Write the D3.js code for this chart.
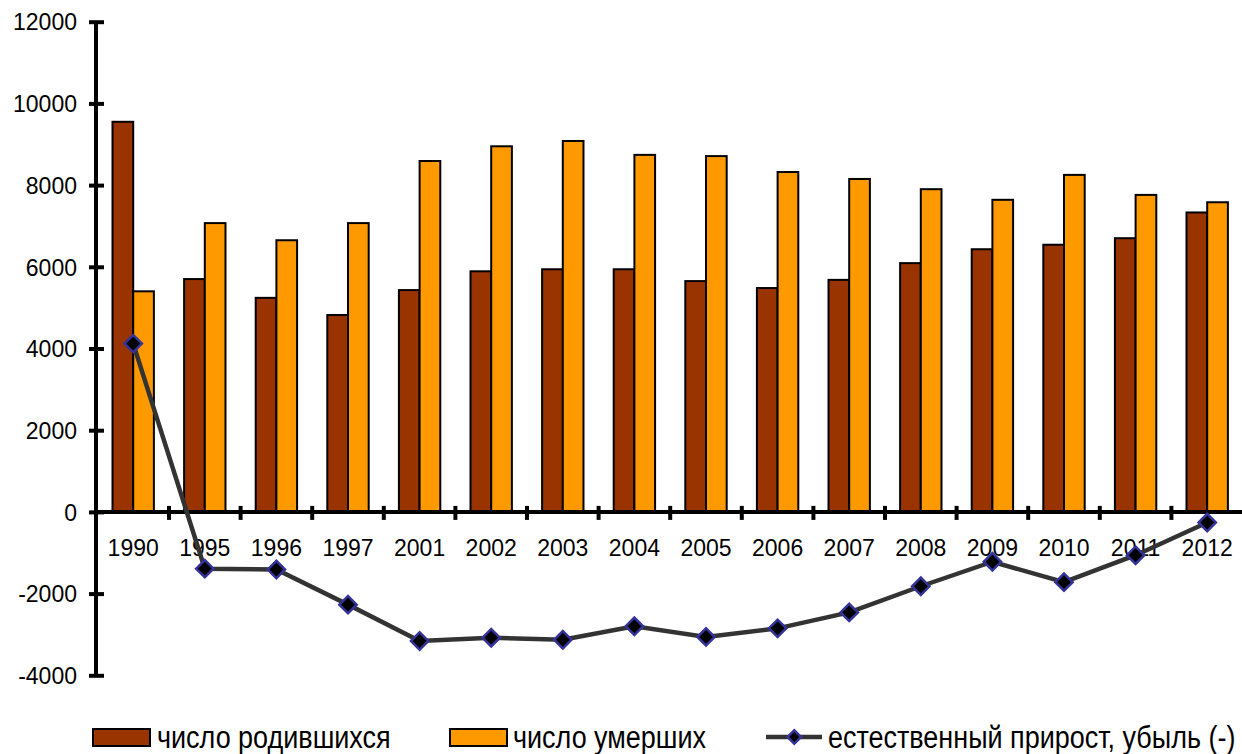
<!DOCTYPE html>
<html><head><meta charset="utf-8">
<script src="https://cdnjs.cloudflare.com/ajax/libs/d3/7.8.5/d3.min.js"></script>
<style>
body{margin:0;background:#fff;}
svg{display:block;font-family:Arial,"Liberation Sans",sans-serif;}
</style></head>
<body>
<svg id="chart" width="1242" height="754"></svg>
<script>
const years = ["1990","1995","1996","1997","2001","2002","2003","2004","2005","2006","2007","2008","2009","2010","2011","2012"];
const births = [9550,5700,5240,4820,5430,5890,5940,5940,5650,5480,5680,6090,6430,6540,6700,7330];
const deaths = [5400,7070,6650,7070,8590,8950,9080,8740,8710,8320,8150,7900,7640,8250,7760,7580];
const natural = [4120,-1390,-1410,-2270,-3160,-3080,-3130,-2800,-3060,-2850,-2460,-1820,-1220,-1720,-1060,-260];
const yTicks = [-4000,-2000,0,2000,4000,6000,8000,10000,12000];
const seriesNames = ["число родившихся","число умерших","естественный прирост, убыль (-)"];
const colors = ["#993300","#FF9900"];

const FONT = "Arial, 'Liberation Sans', sans-serif";
const svg = d3.select("#chart");
const x = d3.scaleBand().domain(years).range([97.4, 1243]).paddingInner(0).paddingOuter(0);
const x1 = d3.scaleBand().domain([0,1]).range([0, x.bandwidth()]).paddingInner(0).paddingOuter(0.73);
const y = d3.scaleLinear().domain([-4000,12000]).range([675.3, 21.7]);

// bars
const g = svg.append("g");
years.forEach((yr,i)=>{
  [births[i], deaths[i]].forEach((v,k)=>{
    g.append("rect")
      .attr("x", x(yr)+x1(k))
      .attr("y", y(v))
      .attr("width", x1.bandwidth())
      .attr("height", y(0)-y(v))
      .attr("fill", colors[k])
      .attr("stroke","#000")
      .attr("stroke-width",2);
  });
});

// y axis
const yAxis = svg.append("g").attr("transform",`translate(96,0)`)
  .call(d3.axisLeft(y).tickValues(yTicks).tickSize(7).tickFormat(d=>String(d)));
yAxis.select(".domain").remove();
yAxis.selectAll(".tick line").attr("x1",8).attr("x2",-7).attr("stroke","#000").attr("stroke-width",4);
yAxis.selectAll(".tick text").attr("font-size",23).attr("fill","#000").attr("x",-19).attr("dy","0.36em").attr("font-family",FONT);
svg.append("line").attr("x1",96).attr("x2",96).attr("y1",y(12000)).attr("y2",y(-4000)).attr("stroke","#000").attr("stroke-width",4);

// x axis
svg.append("line").attr("x1",96).attr("x2",1242).attr("y1",y(0)).attr("y2",y(0)).attr("stroke","#000").attr("stroke-width",4);
years.slice(1).forEach(yr=>{
  svg.append("line").attr("x1",x(yr)).attr("x2",x(yr)).attr("y1",y(0)-6).attr("y2",y(0)+8).attr("stroke","#000").attr("stroke-width",4);
});
const xAxis = svg.append("g").attr("transform",`translate(0,${y(0)})`)
  .call(d3.axisBottom(x).tickSize(0).tickPadding(0));
xAxis.select(".domain").remove();
xAxis.selectAll(".tick text").attr("font-size",23).attr("fill","#000").attr("y",44).attr("dy",0)
  .attr("font-family",FONT);

// line
const cx = i => x(years[i]) + x.bandwidth()/2;
const line = d3.line().x((d,i)=>cx(i)).y(d=>y(d));
svg.append("path").datum(natural).attr("d",line).attr("fill","none").attr("stroke","#333333").attr("stroke-width",4.5);
const sq = d3.symbol().type(d3.symbolSquare).size(150);
svg.selectAll(".mk").data(natural).enter().append("path")
  .attr("transform",(d,i)=>`translate(${cx(i)},${y(d)}) rotate(45)`)
  .attr("d",sq()).attr("fill","#000").attr("stroke","#333399").attr("stroke-width",2.5);

// legend
const lg = svg.append("g").attr("fill","#000");
const legText = (xp, t) => lg.append("text")
  .attr("transform",`translate(${xp},748) scale(0.87,1)`)
  .attr("font-size",31).attr("font-family",FONT).text(t);
lg.append("rect").attr("x",93).attr("y",729).attr("width",57).attr("height",17).attr("fill",colors[0]).attr("stroke","#000").attr("stroke-width",2);
legText(157, seriesNames[0]);
lg.append("rect").attr("x",450).attr("y",729).attr("width",57).attr("height",17).attr("fill",colors[1]).attr("stroke","#000").attr("stroke-width",2);
legText(513, seriesNames[1]);
lg.append("line").attr("x1",766).attr("x2",822).attr("y1",737).attr("y2",737).attr("stroke","#333333").attr("stroke-width",4.5);
lg.append("path").attr("transform","translate(794.3,737) rotate(45)").attr("d",d3.symbol().type(d3.symbolSquare).size(90)()).attr("fill","#000").attr("stroke","#333399").attr("stroke-width",2.5);
legText(828, seriesNames[2]);
</script>
</body></html>
